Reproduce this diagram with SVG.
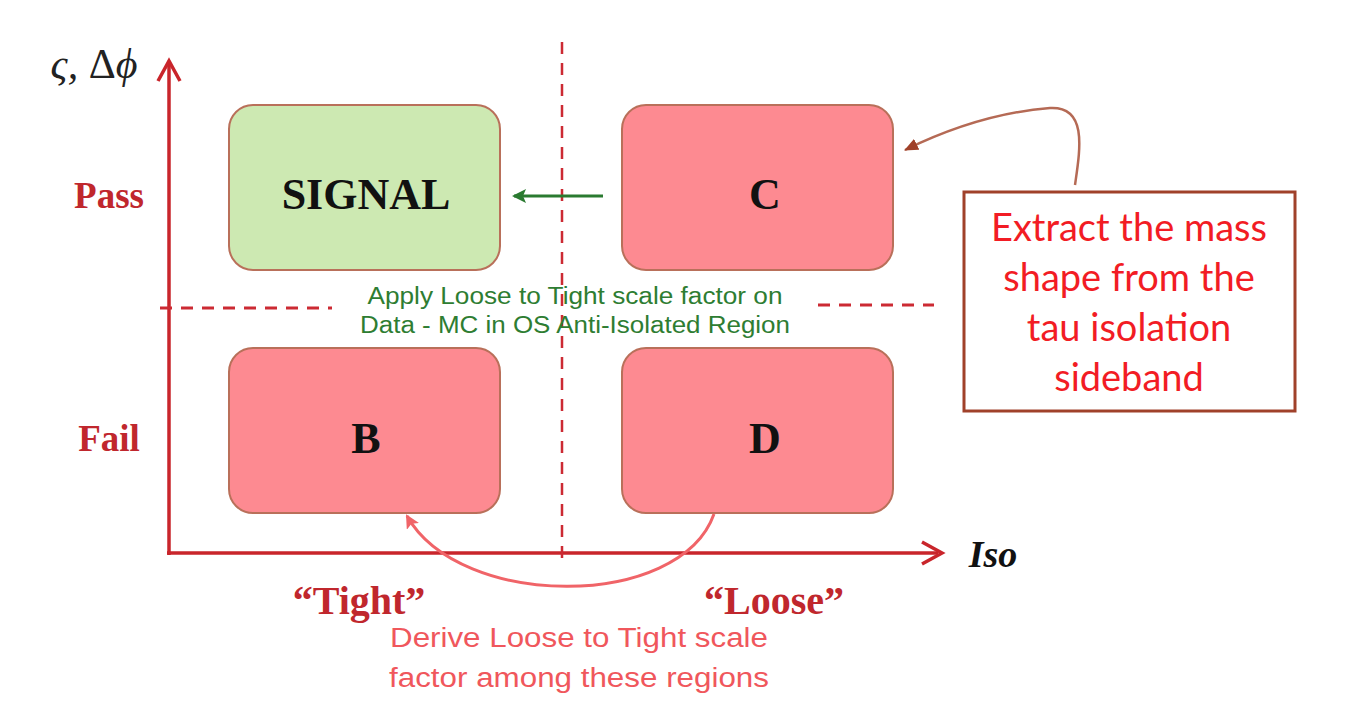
<svg xmlns="http://www.w3.org/2000/svg" width="1348" height="702" viewBox="0 0 1348 702">
<style>
.box{stroke:#b9705a;stroke-width:2}
.red{fill:#fd8a91}
.green{fill:#cde9b2}
.lbl{font-family:"Liberation Serif",serif;font-weight:bold;fill:#111;text-anchor:middle}
.axlbl{font-family:"Liberation Serif",serif;font-weight:bold;fill:#c0272d;text-anchor:middle}
.dash{stroke:#cc2a33;stroke-width:3;stroke-dasharray:12 9;fill:none}
.sans{font-family:"Liberation Sans",Arial,sans-serif;text-anchor:middle}
</style>
<defs>
<marker id="ag" markerWidth="14" markerHeight="14" refX="12" refY="7" orient="auto" markerUnits="userSpaceOnUse" viewBox="0 0 14 14"><path d="M0,0 L14,7 L0,14 L3,7 z" fill="#2a7a30"/></marker>
<marker id="ab" markerWidth="14" markerHeight="12" refX="13" refY="6" orient="auto" markerUnits="userSpaceOnUse" viewBox="0 0 14 12"><path d="M0,0 L14,6 L0,12 z" fill="#a0412a"/></marker>
<marker id="ap" markerWidth="14" markerHeight="14" refX="12" refY="7" orient="auto" markerUnits="userSpaceOnUse" viewBox="0 0 14 14"><path d="M0,0 L14,7 L0,14 L3,7 z" fill="#f06468"/></marker>
</defs>
<rect width="1348" height="702" fill="#fff"/>
<g id="axes">
<line x1="169" y1="555" x2="169" y2="63" stroke="#c9252b" stroke-width="3.5"/>
<path d="M158,81 L169,61 L180,81" fill="none" stroke="#c9252b" stroke-width="3.5"/>
<line x1="167" y1="553" x2="938" y2="553" stroke="#c9252b" stroke-width="3.5"/>
<path d="M922,542 L942,553 L922,564" fill="none" stroke="#c9252b" stroke-width="3.5"/>
<line x1="562" y1="42" x2="562" y2="562" class="dash" style="stroke-width:2.5"/>
<line x1="160" y1="308" x2="332" y2="308" class="dash"/>
<line x1="818" y1="305" x2="934" y2="305" class="dash"/>
<text x="94" y="78" font-family="Liberation Serif,serif" font-style="italic" font-size="42" fill="#222" text-anchor="middle">ς, <tspan font-style="normal">Δ</tspan>ϕ</text>
<text x="109" y="208" class="axlbl" font-size="37">Pass</text>
<text x="109" y="451" class="axlbl" font-size="37">Fail</text>
<text x="993" y="567" font-family="Liberation Serif,serif" font-style="italic" font-weight="bold" font-size="38" fill="#111" text-anchor="middle">Iso</text>
<text x="359" y="614" class="axlbl" font-size="40">“Tight”</text>
<text x="774" y="614" class="axlbl" font-size="40">“Loose”</text>
</g>
<g id="signal">
<rect x="229" y="105" width="271" height="165" rx="24" class="box green"/>
<text x="366" y="209" class="lbl" font-size="44">SIGNAL</text>
</g>
<g id="C">
<rect x="622" y="105" width="271" height="165" rx="24" class="box red"/>
<text x="765" y="209" class="lbl" font-size="44">C</text>
</g>
<g id="B">
<rect x="229" y="348" width="271" height="165" rx="24" class="box red"/>
<text x="366" y="453" class="lbl" font-size="44">B</text>
</g>
<g id="D">
<rect x="622" y="348" width="271" height="165" rx="24" class="box red"/>
<text x="765" y="453" class="lbl" font-size="44">D</text>
</g>
<g id="callout">
<rect x="964" y="192" width="331" height="219" fill="#fff" stroke="#a0412a" stroke-width="3"/>
<g font-family="Lato,'Open Sans',sans-serif" font-size="38" fill="#f21c24" text-anchor="middle">
<text x="1129" y="241">Extract the mass</text>
<text x="1129" y="291">shape from the</text>
<text x="1129" y="341">tau isolation</text>
<text x="1129" y="391">sideband</text>
</g>
</g>
<g id="connectors">
<line x1="603" y1="196" x2="514" y2="196" stroke="#2a7a30" stroke-width="3" marker-end="url(#ag)"/>
<path d="M1075,185 C1080,150 1088,106 1050,108 C1000,112 950,128 905,150" fill="none" stroke="#b56a55" stroke-width="2.5" marker-end="url(#ab)"/>
<path d="M714,514 C680,610 460,610 407,516" fill="none" stroke="#f06468" stroke-width="3" marker-end="url(#ap)"/>
</g>
<g id="notes">
<g class="sans" font-size="23" fill="#2e7d32">
<text x="575" y="304" textLength="415" lengthAdjust="spacingAndGlyphs">Apply Loose to Tight scale factor on</text>
<text x="575" y="333" textLength="430" lengthAdjust="spacingAndGlyphs">Data - MC in OS Anti-Isolated Region</text>
</g>
<g class="sans" font-size="27" fill="#f0575c">
<text x="579" y="647" textLength="378" lengthAdjust="spacingAndGlyphs">Derive Loose to Tight scale</text>
<text x="579" y="687" textLength="380" lengthAdjust="spacingAndGlyphs">factor among these regions</text>
</g>
</g>
</svg>
